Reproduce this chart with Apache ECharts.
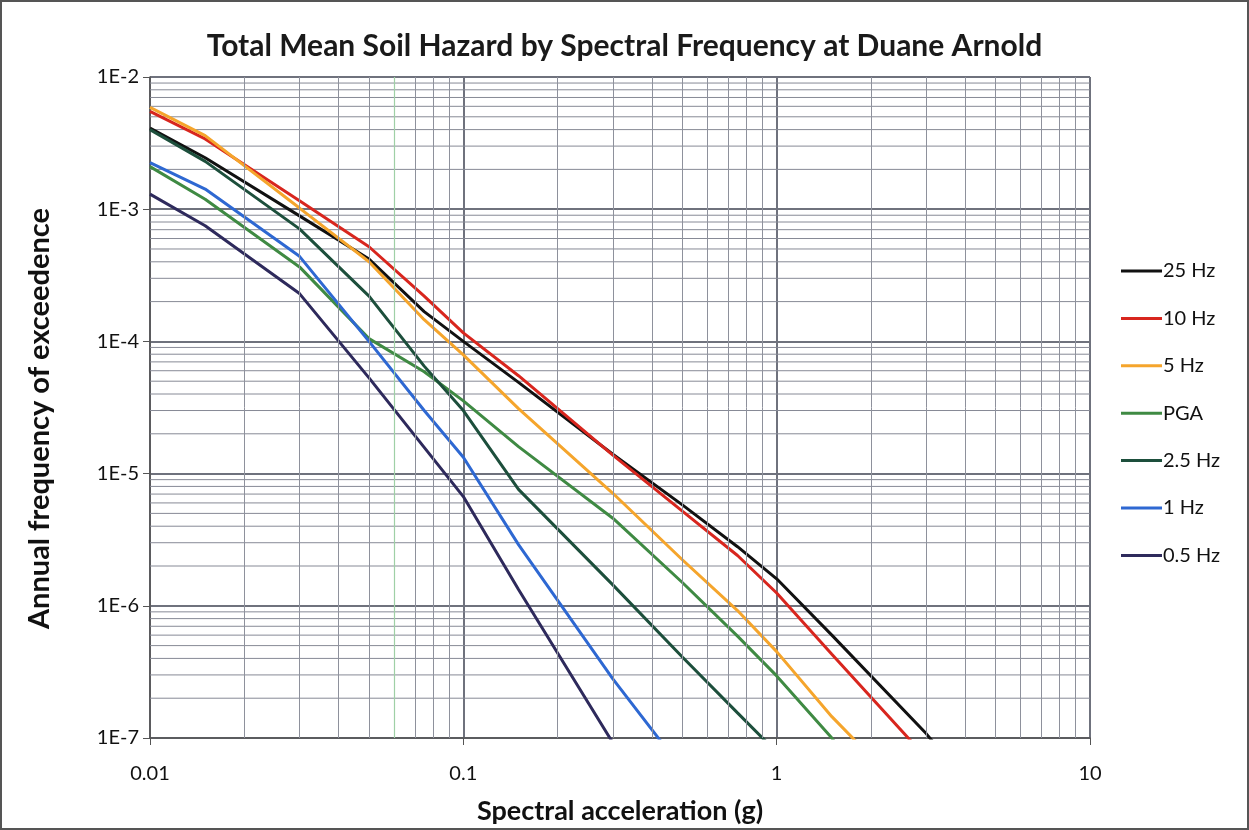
<!DOCTYPE html>
<html><head><meta charset="utf-8">
<script src="https://cdn.jsdelivr.net/npm/echarts@6/dist/echarts.min.js"></script>
<style>html,body{margin:0;padding:0;background:#fff}#c{width:1249px;height:830px}</style>
</head><body><div id="c"></div>
<script>
// Spectral acceleration (g)
const xValues = [0.01, 0.015, 0.03, 0.05, 0.075, 0.1, 0.15, 0.3, 0.5, 0.75, 1, 1.5, 3, 5];
// Annual frequency of exceedance per spectral frequency
const hz25  = [4.1e-3, 2.45e-3, 8.9e-4, 4.2e-4, 1.68e-4, 1.0e-4, 4.9e-5, 1.4e-5, 5.8e-6, 2.8e-6, 1.6e-6, 6.0e-7, 1.08e-7, 2.5e-8];
const hz10  = [5.5e-3, 3.4e-3, 1.16e-3, 5.2e-4, 2.2e-4, 1.16e-4, 5.5e-5, 1.38e-5, 5.2e-6, 2.4e-6, 1.25e-6, 4.3e-7, 7.1e-8];
const hz5   = [5.9e-3, 3.6e-3, 1.02e-3, 4.0e-4, 1.46e-4, 7.9e-5, 3.1e-5, 7.1e-6, 2.23e-6, 9.2e-7, 4.5e-7, 1.45e-7, 2.7e-8];
const pga   = [2.1e-3, 1.19e-3, 3.66e-4, 1.05e-4, 5.9e-5, 3.55e-5, 1.6e-5, 4.6e-6, 1.5e-6, 5.9e-7, 2.95e-7, 1.0e-7, 1.0e-8];
const hz2_5 = [4.0e-3, 2.3e-3, 7.1e-4, 2.2e-4, 6.5e-5, 3.0e-5, 7.6e-6, 1.44e-6, 4.1e-7, 1.55e-7, 7.8e-8];
const hz1   = [2.25e-3, 1.42e-3, 4.4e-4, 1.0e-4, 3.0e-5, 1.33e-5, 2.9e-6, 2.8e-7, 5.8e-8];
const hz0_5 = [1.3e-3, 7.5e-4, 2.3e-4, 5.3e-5, 1.58e-5, 6.7e-6, 1.33e-6, 9.2e-8];

const seriesNames = ['25 Hz', '10 Hz', '5 Hz', 'PGA', '2.5 Hz', '1 Hz', '0.5 Hz'];
const seriesValues = [hz25, hz10, hz5, pga, hz2_5, hz1, hz0_5];
const xTickLabels = ['0.01', '0.1', '1', '10'];
const yTickLabels = ['1E-7', '1E-6', '1E-5', '1E-4', '1E-3', '1E-2'];

const colors = ['#111111', '#d8261e', '#f5a52c', '#3f8a43', '#1d4f3c', '#2e68d2', '#2e2a5c'];
const FONT = 'Lato';

// minor grid values (2..9 within each decade)
const minorX = [], minorY = [];
[0.01, 0.1, 1].forEach(d => { for (let m = 2; m <= 9; m++) minorX.push(+(d * m).toPrecision(3)); });
[1e-7, 1e-6, 1e-5, 1e-4, 1e-3].forEach(d => { for (let m = 2; m <= 9; m++) minorY.push(+(d * m).toPrecision(3)); });

const vGridSeries = {
  type: 'line', data: [], z: 1, silent: true, legendHoverLink: false,
  markLine: {
    silent: true, symbol: 'none', animation: false,
    label: { show: false },
    lineStyle: { color: '#8e919c', width: 1, type: 'solid' },
    emphasis: { disabled: true },
    data: minorX.map(v => v === 0.06
      ? { xAxis: v, lineStyle: { color: '#9fd0a6', width: 1.2, type: 'solid' } }
      : { xAxis: v })
  }
};
// horizontal minor grid lines drawn as broken line segments across the axis range
const hGridData = [];
minorY.forEach(v => { hGridData.push([0.01, v], [10, v], [10, '-']); });
const hGridSeries = {
  type: 'line', data: hGridData, z: 1, silent: true, showSymbol: false, symbol: 'none',
  connectNulls: false, clip: true, legendHoverLink: false,
  lineStyle: { color: '#878a96', width: 1 },
  emphasis: { disabled: true }, tooltip: { show: false }
};

const chart = echarts.init(document.getElementById('c'), null, { renderer: 'canvas' });
chart.setOption({
  animation: false,
  backgroundColor: '#ffffff',
  title: {
    text: 'Total Mean Soil Hazard by Spectral Frequency at Duane Arnold',
    left: 'center', top: 26,
    textStyle: { fontFamily: FONT, fontSize: 30, fontWeight: 'bold', color: '#1a1a1a' }
  },
  legend: {
    orient: 'vertical', left: 1116, top: 256,
    itemWidth: 41, itemHeight: 3, itemGap: 27.4, icon: 'rect',
    textStyle: { fontFamily: FONT, fontSize: 20, color: '#111', lineHeight: 20, padding: [0, 0, 0, -4] },
    data: seriesNames
  },
  grid: { left: 150, right: 159, top: 77, bottom: 87, containLabel: false },
  xAxis: {
    type: 'log', logBase: 10, min: 0.01, max: 10,
    name: 'Spectral acceleration (g)', nameLocation: 'middle', nameGap: 60,
    nameTextStyle: { fontFamily: FONT, fontSize: 27, fontWeight: 'bold', color: '#111' },
    axisLine: { show: true, lineStyle: { color: '#555', width: 1.5 } },
    axisTick: { show: true, length: 7, lineStyle: { color: '#555' } },
    axisLabel: { fontFamily: FONT, fontSize: 20, color: '#111', margin: 26,
      formatter: v => xTickLabels[Math.round(Math.log10(v) + 2)] },
    splitLine: { show: true, lineStyle: { color: '#6f727d', width: 2 } }
  },
  yAxis: {
    type: 'log', logBase: 10, min: 1e-7, max: 1e-2,
    name: 'Annual frequency of exceedence', nameLocation: 'middle', nameGap: 96, nameRotate: 90,
    nameTextStyle: { fontFamily: FONT, fontSize: 29, fontWeight: 'bold', color: '#111', padding: [0, 22, 0, 0] },
    axisLine: { show: true, lineStyle: { color: '#555', width: 1.5 } },
    axisTick: { show: true, length: 7, lineStyle: { color: '#555' } },
    axisLabel: { fontFamily: FONT, fontSize: 20, color: '#111', margin: 11,
      formatter: v => yTickLabels[Math.round(Math.log10(v) + 7)] },
    splitLine: { show: true, lineStyle: { color: '#6f727d', width: 2 } }
  },
  graphic: [{
    type: 'rect', shape: { x: 1, y: 1, width: 1247, height: 828 },
    style: { fill: 'none', stroke: '#555', lineWidth: 2 }, silent: true, z: 100
  }],
  series: [vGridSeries, hGridSeries].concat(seriesNames.map((name, i) => ({
    name, type: 'line', z: 3,
    data: seriesValues[i].map((y, k) => [xValues[k], y]),
    showSymbol: false, symbol: 'none', clip: true,
    lineStyle: { color: colors[i], width: 3 },
    itemStyle: { color: colors[i] },
    emphasis: { disabled: true }
  })))
});
</script></body></html>
